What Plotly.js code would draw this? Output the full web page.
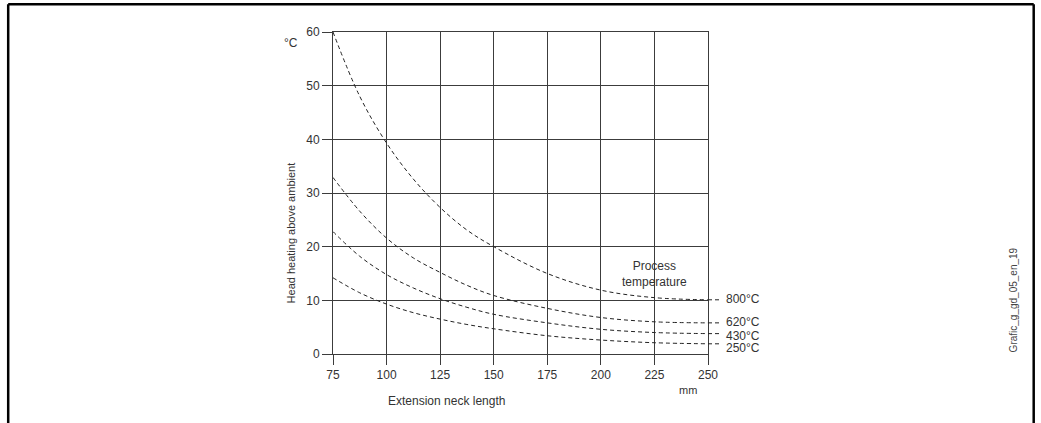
<!DOCTYPE html>
<html>
<head>
<meta charset="utf-8">
<script src="https://cdn.plot.ly/plotly-3.0.1.min.js"></script>
<style>
  html, body { margin: 0; padding: 0; background: #fff; }
  #chart { width: 1041px; height: 423px; }
</style>
</head>
<body>
<div id="chart"></div>
<script>
// ---- Data ----
const neckLength = [75, 87.5, 100, 112.5, 125, 137.5, 150, 175, 200, 225, 250];
const heat800 = [60, 48.0, 39.3, 32.6, 27.3, 23.1, 20, 15, 11.9, 10.5, 10.1];
const heat620 = [32.9, 26.6, 21.6, 17.9, 15.2, 12.8, 10.9, 8.5, 6.8, 6.0, 5.8];
const heat430 = [22.8, 18.2, 14.8, 12.3, 10.3, 8.7, 7.4, 5.8, 4.6, 4.0, 3.8];
const heat250 = [14.2, 11.4, 9.3, 7.7, 6.5, 5.5, 4.7, 3.4, 2.6, 2.1, 1.9];
const seriesNames = ['800°C', '620°C', '430°C', '250°C'];
const labelY = [10.3, 5.9, 3.4, 1.1];
const xTicks = [75, 100, 125, 150, 175, 200, 225, 250];
const yTicks = [0, 10, 20, 30, 40, 50, 60];

// ---- Layout geometry (pixels) ----
const W = 1041, H = 423;
const L = 333.3, R = 708.3, T = 32.3, B = 354.3;
const px = x => (x - L) / (R - L);
const py = y => (B - y) / (B - T);

const allSeries = [heat800, heat620, heat430, heat250];
const font = 'Arial, "Liberation Sans", sans-serif';
const txt = '#333';
const gridCol = '#3c3c3c';

const traces = allSeries.map((ys, i) => ({
  x: neckLength, y: ys, type: 'scatter', mode: 'lines', name: seriesNames[i],
  line: {color: '#222', width: 1, dash: '4px,3px', shape: 'spline', smoothing: 1},
  hoverinfo: 'x+y+name'
}));

const shapes = [];
// leader lines from curve end to labels
allSeries.forEach((ys, i) => {
  shapes.push({type: 'line', xref: 'paper', yref: 'y',
    x0: 1, x1: px(722), y0: ys[ys.length - 1], y1: ys[ys.length - 1],
    line: {color: '#222', width: 1, dash: '4px,3px'}});
});
// frame
const frameLine = {color: '#000', width: 2.5};
shapes.push({type: 'line', xref: 'paper', yref: 'paper', x0: px(8.5), x1: px(1034), y0: py(4.5), y1: py(4.5), line: frameLine});
shapes.push({type: 'line', xref: 'paper', yref: 'paper', x0: px(8.5), x1: px(8.5), y0: py(4.5), y1: py(430), line: frameLine});
shapes.push({type: 'line', xref: 'paper', yref: 'paper', x0: px(1034), x1: px(1034), y0: py(4.5), y1: py(430), line: frameLine});

const ann = (o) => Object.assign({showarrow: false, xanchor: 'center', yanchor: 'middle',
  xref: 'paper', yref: 'paper', font: {family: font, size: 11, color: txt}}, o);

const annotations = seriesNames.map((n, i) => ann({
  text: n, yref: 'y', x: px(724), y: labelY[i], xanchor: 'left',
  font: {family: font, size: 12, color: txt}
}));
annotations.push(
  ann({text: 'Process<br>temperature', xref: 'x', yref: 'y', x: 225, y: 15,
       font: {family: font, size: 12, color: txt}}),
  ann({text: 'Head heating above ambient', x: px(291), y: py(233), textangle: -90}),
  ann({text: '°C', x: px(291.5), y: py(43), font: {family: font, size: 12, color: txt}}),
  ann({text: 'Extension neck length', x: px(446.5), y: py(401),
       font: {family: font, size: 12, color: txt}}),
  ann({text: 'mm', x: px(688), y: py(390)}),
  ann({text: 'Grafic_g_gd_05_en_19', x: px(1014), y: py(300), textangle: -90,
       font: {family: font, size: 10, color: '#444'}})
);

const axisCommon = {
  showgrid: true, gridcolor: gridCol, gridwidth: 1,
  showline: true, linecolor: gridCol, linewidth: 1, mirror: true,
  zeroline: false, ticks: 'outside', ticklen: 10, tickcolor: gridCol, tickwidth: 1,
  tickfont: {family: font, size: 12, color: txt}, fixedrange: true
};

const layout = {
  width: W, height: H,
  margin: {l: L, r: W - R, t: T, b: H - B, pad: 0},
  paper_bgcolor: '#fff', plot_bgcolor: '#fff',
  showlegend: false,
  xaxis: Object.assign({}, axisCommon, {range: [75, 250], tickvals: xTicks, ticktext: xTicks.map(String)}),
  yaxis: Object.assign({}, axisCommon, {range: [0, 60], tickvals: yTicks, ticktext: yTicks.map(String)}),
  shapes: shapes,
  annotations: annotations
};

Plotly.newPlot('chart', traces, layout, {displayModeBar: false, staticPlot: true});
</script>
</body>
</html>
